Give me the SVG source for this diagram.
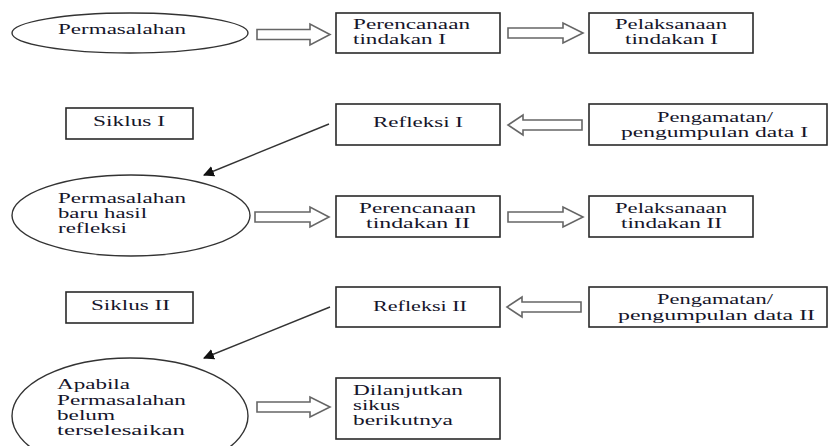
<svg xmlns="http://www.w3.org/2000/svg" width="829" height="446" viewBox="0 0 829 446">
<style>
.t{font-family:'Liberation Serif','DejaVu Serif',serif;font-size:15px;fill:#15152a}
.box{fill:#fff;stroke:#2a2a2a;stroke-width:1.6}
.ell{fill:#fff;stroke:#333;stroke-width:1.4}
.blk{fill:#fff;stroke:#666;stroke-width:1.6;stroke-linejoin:miter}
.ln{stroke:#333;stroke-width:1.4;fill:none}
</style>
<defs>
<marker id="ah" viewBox="0 0 10 10" refX="9" refY="5" markerWidth="11" markerHeight="11" markerUnits="userSpaceOnUse" orient="auto">
<path d="M0,0 L10,5 L0,10 Z" fill="#111"/>
</marker>
</defs>
<rect width="829" height="446" fill="#fff"/>

<g id="connectors">
<path class="blk" d="M257,29.5 H310 V24 L330,34.5 L310,45 V39.5 H257 Z"/>
<path class="blk" d="M508,28 H563 V23 L583,33 L563,43 V38 H508 Z"/>
<path class="blk" d="M582,120 H523 V115 L508,125 L523,135 V130 H582 Z"/>
<path class="blk" d="M255,212 H310 V207 L329,217 L310,227 V222 H255 Z"/>
<path class="blk" d="M508,212 H563 V207 L583,217 L563,227 V222 H508 Z"/>
<path class="blk" d="M581,302 H522 V297 L507,307 L522,317 V312 H581 Z"/>
<path class="blk" d="M257,402 H310 V397 L330,407 L310,417 V412 H257 Z"/>
<line class="ln" x1="329" y1="124" x2="204" y2="175" marker-end="url(#ah)"/>
<line class="ln" x1="330" y1="307" x2="204" y2="358" marker-end="url(#ah)"/>
</g>

<g id="permasalahan">
<ellipse class="ell" cx="130" cy="33" rx="118" ry="20"/>
<text class="t" x="58" y="34" textLength="128" lengthAdjust="spacingAndGlyphs">Permasalahan</text>
</g>

<g id="perencanaan1">
<rect class="box" x="336" y="13" width="164" height="40"/>
<text class="t" x="353" y="29" textLength="117" lengthAdjust="spacingAndGlyphs">Perencanaan</text>
<text class="t" x="353" y="44" textLength="93" lengthAdjust="spacingAndGlyphs">tindakan I</text>
</g>

<g id="pelaksanaan1">
<rect class="box" x="589" y="13" width="164" height="40"/>
<text class="t" x="615" y="29" textLength="112" lengthAdjust="spacingAndGlyphs">Pelaksanaan</text>
<text class="t" x="625" y="44" textLength="93" lengthAdjust="spacingAndGlyphs">tindakan I</text>
</g>

<g id="siklus1">
<rect class="box" x="66" y="108" width="127" height="31"/>
<text class="t" x="93" y="126" textLength="72" lengthAdjust="spacingAndGlyphs">Siklus I</text>
</g>

<g id="refleksi1">
<rect class="box" x="336" y="104" width="164" height="41"/>
<text class="t" x="373" y="127" textLength="90" lengthAdjust="spacingAndGlyphs">Refleksi I</text>
</g>

<g id="pengamatan1">
<rect class="box" x="589" y="104" width="238" height="41"/>
<text class="t" x="657" y="122" textLength="116" lengthAdjust="spacingAndGlyphs">Pengamatan/</text>
<text class="t" x="621" y="137" textLength="187" lengthAdjust="spacingAndGlyphs">pengumpulan  data I</text>
</g>

<g id="permasalahan-baru">
<ellipse class="ell" cx="131" cy="215.5" rx="119" ry="40.5"/>
<text class="t" x="58" y="203" textLength="128" lengthAdjust="spacingAndGlyphs">Permasalahan</text>
<text class="t" x="58" y="218" textLength="89" lengthAdjust="spacingAndGlyphs">baru hasil</text>
<text class="t" x="58" y="233" textLength="69" lengthAdjust="spacingAndGlyphs">refleksi</text>
</g>

<g id="perencanaan2">
<rect class="box" x="336" y="196" width="164" height="41"/>
<text class="t" x="359" y="213" textLength="117" lengthAdjust="spacingAndGlyphs">Perencanaan</text>
<text class="t" x="366" y="228" textLength="104" lengthAdjust="spacingAndGlyphs">tindakan II</text>
</g>

<g id="pelaksanaan2">
<rect class="box" x="589" y="196" width="164" height="41"/>
<text class="t" x="615" y="213" textLength="112" lengthAdjust="spacingAndGlyphs">Pelaksanaan</text>
<text class="t" x="621" y="228" textLength="101" lengthAdjust="spacingAndGlyphs">tindakan II</text>
</g>

<g id="siklus2">
<rect class="box" x="66" y="292" width="127" height="31"/>
<text class="t" x="91" y="310" textLength="79" lengthAdjust="spacingAndGlyphs">Siklus II</text>
</g>

<g id="refleksi2">
<rect class="box" x="336" y="287" width="164" height="40"/>
<text class="t" x="373" y="311" textLength="94" lengthAdjust="spacingAndGlyphs">Refleksi II</text>
</g>

<g id="pengamatan2">
<rect class="box" x="589" y="287" width="238" height="40"/>
<text class="t" x="657" y="304" textLength="116" lengthAdjust="spacingAndGlyphs">Pengamatan/</text>
<text class="t" x="618" y="320" textLength="197" lengthAdjust="spacingAndGlyphs">pengumpulan  data II</text>
</g>

<g id="apabila">
<ellipse class="ell" cx="130" cy="416" rx="118" ry="58"/>
<text class="t" x="57" y="389" textLength="73" lengthAdjust="spacingAndGlyphs">Apabila</text>
<text class="t" x="57" y="405" textLength="129" lengthAdjust="spacingAndGlyphs">Permasalahan</text>
<text class="t" x="57" y="420" textLength="58" lengthAdjust="spacingAndGlyphs">belum</text>
<text class="t" x="57" y="435" textLength="128" lengthAdjust="spacingAndGlyphs">terselesaikan</text>
</g>

<g id="dilanjutkan">
<rect class="box" x="336" y="378" width="164" height="61"/>
<text class="t" x="353" y="395" textLength="110" lengthAdjust="spacingAndGlyphs">Dilanjutkan</text>
<text class="t" x="353" y="410" textLength="47" lengthAdjust="spacingAndGlyphs">sikus</text>
<text class="t" x="353" y="425" textLength="100" lengthAdjust="spacingAndGlyphs">berikutnya</text>
</g>
</svg>
